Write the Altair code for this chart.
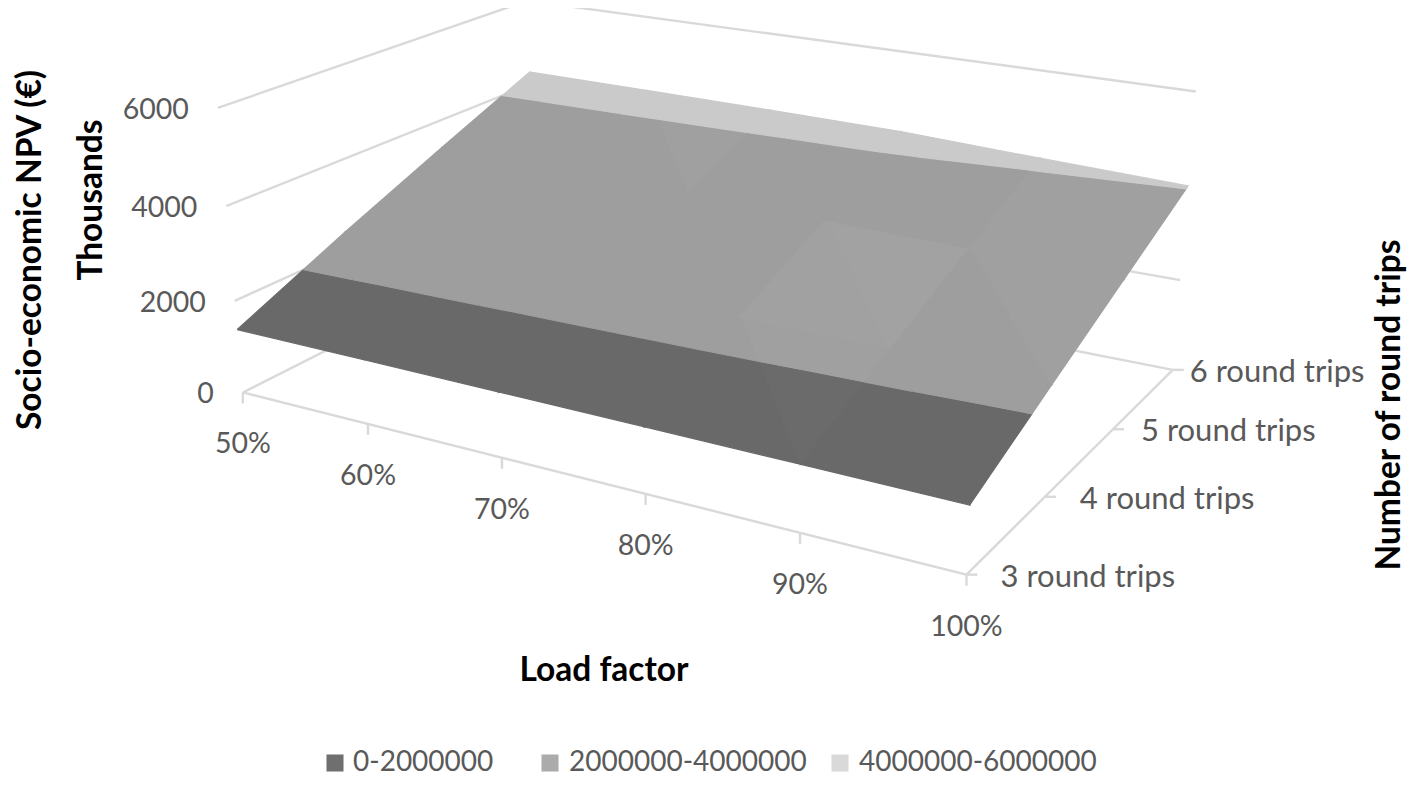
import numpy as np
import pandas as pd
import altair as alt

# ---- data ----
load_factors = ["50%", "60%", "70%", "80%", "90%", "100%"]
round_trips = ["3 round trips", "4 round trips", "5 round trips", "6 round trips"]
value_ticks = [0, 2000, 4000, 6000]
# Socio-economic NPV in thousands of euros: one row per number of round trips
npv_3 = [1380, 1370, 1360, 1350, 1335, 1320]
npv_4 = [2410, 2380, 2350, 2320, 2280, 2230]
npv_5 = [3370, 3340, 3300, 3260, 3210, 3130]
npv_6 = [4300, 4290, 4270, 4240, 4130, 4030]
npv = np.array([npv_3, npv_4, npv_5, npv_6], dtype=float)
band_names = ["0-2000000", "2000000-4000000", "4000000-6000000"]
band_limits = [0, 2000, 4000, 6000]
surface_levels = [105, 158, 202]
key_shades = ["#6f6f6f", "#ababab", "#d9d9d9"]
# slight lighting differences of single facets: (cell column, cell row, side) -> grey offset
facet_tint = {(3,1,2): 4, (3,1,1): 4, (3,1,3): 3, (3,1,0): 3, (4,1,2): 2, (4,1,1): 2,
              (4,2,0): 2, (4,2,1): 2, (4,2,2): 2, (4,2,3): 2, (1,2,1): 2, (1,2,2): 2,
              (3,0,1): 2, (3,0,2): 2}

# ---- oblique view of the 3-D box, calibrated on six box corners ----
box = [(0,0,0),(1,0,0),(1,1,0),(0,0,1),(1,1,1),(0,1,1)]
seen = [(243,393),(966,575),(1173,369),(218,107),(1196,92),(527,1)]
rows = []
for (a,b,c),(x,y) in zip(box, seen):
    rows.append([a,b,c,1,0,0,0,0,-x*a,-x*b,-x*c,-x])
    rows.append([0,0,0,0,a,b,c,1,-y*a,-y*b,-y*c,-y])
P = np.linalg.svd(np.array(rows, float))[2][-1].reshape(3,4)

def view(u, v, w):
    p = P @ np.array([u, v, w, 1.0])
    return p[0]/p[2], p[1]/p[2]

def clip(poly, lo, hi):
    def cut(pts, keep, lim):
        out = []
        for k in range(len(pts)):
            a, b = pts[k], pts[(k+1) % len(pts)]
            if keep(a[2]):
                out.append(a)
            if keep(a[2]) != keep(b[2]):
                t = (lim-a[2])/(b[2]-a[2])
                out.append(tuple(a[m]+t*(b[m]-a[m]) for m in range(3)))
        return out
    pts = cut(poly, lambda z: z >= lo, lo)
    return cut(pts, lambda z: z <= hi, hi) if pts else []

nu, nv = len(load_factors)-1, len(round_trips)-1
surface = []
pid = 0
for j in range(nv):
    for i in range(nu):
        c = [(i/nu, j/nv, npv[j,i]), ((i+1)/nu, j/nv, npv[j,i+1]),
             ((i+1)/nu, (j+1)/nv, npv[j+1,i+1]), (i/nu, (j+1)/nv, npv[j+1,i])]
        mid = ((i+.5)/nu, (j+.5)/nv, sum(q[2] for q in c)/4)
        for t in range(4):
            tri = [c[t], c[(t+1) % 4], mid]
            for b in range(3):
                poly = clip(tri, band_limits[b], band_limits[b+1])
                if len(poly) < 3:
                    continue
                g = surface_levels[b] + (facet_tint.get((i,j,t), 0) if b < 2 else 0)
                shade = "#%02x%02x%02x" % (g, g, g)
                for k, (uu, vv, zz) in enumerate(poly + poly[:1]):
                    x, y = view(uu, vv, zz/6000)
                    surface.append(dict(pid=pid, k=k, x=x, y=y, shade=shade))
                pid += 1
surface = pd.DataFrame(surface)

# box lines
lines = []
def add_line(name, pts):
    for k, p in enumerate(pts):
        x, y = view(*p)
        lines.append(dict(name=name, k=k, x=x, y=y))
for z in value_ticks:
    w = z/6000
    add_line(f"wall{z}", [(0,0,w),(0,1,w),(1,1,w)])
add_line("front", [(0,0,0),(1,0,0),(1,1,0)])
lines = pd.DataFrame(lines)

ticks = []
for i in range(nu+1):
    x, y = view(i/nu, 0, 0)
    ticks.append(dict(x=x, x2=x, y=y, y2=y+11))
for j in range(nv+1):
    x, y = view(1, j/nv, 0)
    ticks.append(dict(x=x, x2=x+11, y=y, y2=y))
ticks = pd.DataFrame(ticks)

labels = []
for i, s in enumerate(load_factors):
    x, y = view(i/nu, 0, 0)
    labels.append(dict(x=x, y=y+52, t=s))
lf = pd.DataFrame(labels)
labels = []
for j, s in enumerate(round_trips):
    x, y = view(1, j/nv, 0)
    labels.append(dict(x=x+[34,35,28,17][j], y=y+3, t=s))
rt = pd.DataFrame(labels)
labels = []
for z in value_ticks:
    x, y = view(0, 0, z/6000)
    labels.append(dict(x=x-29, y=y+2, t=str(z)))
vt = pd.DataFrame(labels)

X = alt.X("x:Q", scale=alt.Scale(domain=[8, 1410]), axis=None)
Y = alt.Y("y:Q", scale=alt.Scale(domain=[8, 779], reverse=True), axis=None)
FONT = "Lato"
GREY = "#595959"

grid = alt.Chart(lines).mark_line(color="#d9d9d9", strokeWidth=2.4).encode(
    x=X, y=Y, detail="name:N", order="k:Q")
tick = alt.Chart(ticks).mark_rule(color="#d9d9d9", strokeWidth=2.4).encode(
    x=X, y=Y, x2="x2:Q", y2="y2:Q")
surf = alt.Chart(surface).mark_line(strokeWidth=1.2).encode(
    x=X, y=Y, detail="pid:N", order="k:Q",
    fill=alt.Fill("shade:N", scale=None), stroke=alt.Stroke("shade:N", scale=None))

def text_layer(df, size=28.5, **kw):
    return alt.Chart(df).mark_text(font=FONT, fontSize=size, color=GREY, baseline="middle", **kw).encode(
        x=X, y=Y, text="t:N")
lf_t = text_layer(lf, align="center")
rt_t = text_layer(rt, size=31, align="left")
vt_t = text_layer(vt, align="right")

titles = pd.DataFrame([
    dict(x=31, y=250, t="Socio-economic NPV (€)", a=270),
    dict(x=92, y=200, t="Thousands", a=270),
    dict(x=1390, y=405, t="Number of round trips", a=270),
    dict(x=604, y=671, t="Load factor", a=0),
])
title_t = alt.Chart(titles).mark_text(font=FONT, fontSize=33.5, fontWeight="bold", color="black",
                                      baseline="middle", align="center").encode(
    x=X, y=Y, text="t:N", angle=alt.Angle("a:Q", scale=None))

key_df = pd.DataFrame(dict(x=[335, 550, 840], y=[763]*3, t=band_names, shade=key_shades))
key_sq = alt.Chart(key_df).mark_square(size=290, opacity=1).encode(
    x=X, y=Y, fill=alt.Fill("shade:N", scale=None))
key_t = alt.Chart(key_df.assign(x=[353, 569, 859])).mark_text(font=FONT, fontSize=28, color=GREY,
                                                          align="left", baseline="middle").encode(
    x=X, y=Y, text="t:N")

chart = (grid + tick + surf + lf_t + rt_t + vt_t + title_t + key_sq + key_t).properties(
    width=1402, height=771, padding=0,
    autosize=alt.AutoSizeParams(type="none", contains="content")
).configure_view(stroke=None)
chart.save("out.html", embed_options={"renderer": "svg", "actions": False})
